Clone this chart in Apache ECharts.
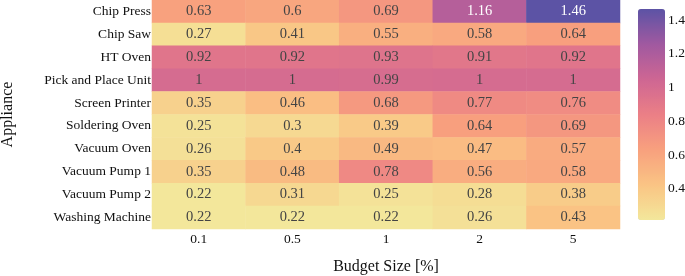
<!DOCTYPE html>
<html>
<head>
<meta charset="utf-8">
<script src="https://cdn.jsdelivr.net/npm/echarts@6/dist/echarts.min.js"></script>
<style>html,body{margin:0;padding:0;background:#fff}#c{width:685px;height:276px}</style>
</head>
<body>
<div id="c"></div>
<script>
const appliances = ["Chip Press","Chip Saw","HT Oven","Pick and Place Unit","Screen Printer","Soldering Oven","Vacuum Oven","Vacuum Pump 1","Vacuum Pump 2","Washing Machine"];
const budgets = ["0.1","0.5","1","2","5"];
const chipPress = [0.63, 0.6, 0.69, 1.16, 1.46];
const chipSaw = [0.27, 0.41, 0.55, 0.58, 0.64];
const htOven = [0.92, 0.92, 0.93, 0.91, 0.92];
const pickPlace = [1, 1, 0.99, 1, 1];
const screenPrinter = [0.35, 0.46, 0.68, 0.77, 0.76];
const solderingOven = [0.25, 0.3, 0.39, 0.64, 0.69];
const vacuumOven = [0.26, 0.4, 0.49, 0.47, 0.57];
const vacuumPump1 = [0.35, 0.48, 0.78, 0.56, 0.58];
const vacuumPump2 = [0.22, 0.31, 0.25, 0.28, 0.38];
const washingMachine = [0.22, 0.22, 0.22, 0.26, 0.43];
const colorbarTicks = [0.4, 0.6, 0.8, 1, 1.2, 1.4];

const rows = [chipPress, chipSaw, htOven, pickPlace, screenPrinter, solderingOven, vacuumOven, vacuumPump1, vacuumPump2, washingMachine];
const sunset = ['rgb(243,231,155)','rgb(250,196,132)','rgb(248,160,126)','rgb(235,127,134)','rgb(206,102,147)','rgb(160,89,160)','rgb(92,83,165)'];
let vmin = Infinity, vmax = -Infinity;
const data = [];
rows.forEach((r, yi) => r.forEach((v, xi) => {
  vmin = Math.min(vmin, v); vmax = Math.max(vmax, v);
  data.push({value: [xi, yi, v], label: {color: v > 1.1 ? '#ffffff' : '#444444'}});
}));
const font = 'Liberation Serif';
const chart = echarts.init(document.getElementById('c'), null, {renderer: 'canvas'});
chart.setOption({
  animation: false,
  textStyle: {fontFamily: font},
  grid: [
    {left: 152, top: 0, width: 468, height: 229, outerBoundsMode: 'none', containLabel: false},
    {left: 638, top: 9, width: 27, height: 211, show: false, outerBoundsMode: 'none', containLabel: false}
  ],
  xAxis: [
    {type: 'category', data: budgets, gridIndex: 0,
     axisLine: {show: false}, axisTick: {show: false}, splitLine: {show: false},
     axisLabel: {fontFamily: font, fontSize: 13.5, color: '#111', margin: 3},
     name: 'Budget Size [%]', nameLocation: 'middle', nameGap: 30,
     nameTextStyle: {fontFamily: font, fontSize: 16, color: '#111'}},
    {type: 'value', gridIndex: 1, show: false}
  ],
  yAxis: [
    {type: 'category', data: appliances, inverse: true, gridIndex: 0,
     axisLine: {show: false}, axisTick: {show: false}, splitLine: {show: false},
     axisLabel: {fontFamily: font, fontSize: 13.5, color: '#111', margin: 1},
     name: 'Appliance', nameLocation: 'middle', nameGap: 136, nameRotate: 90,
     nameTextStyle: {fontFamily: font, fontSize: 16, color: '#111'}},
    {type: 'value', gridIndex: 1, position: 'right', min: vmin - 0.004, max: vmax + 0.005,
     axisLine: {show: false}, axisTick: {show: false}, splitLine: {show: false},
     axisLabel: {fontFamily: font, fontSize: 13.5, color: '#111', margin: 3, customValues: colorbarTicks,
       formatter: v => String(+v.toFixed(2))}}
  ],
  visualMap: {
    type: 'continuous', min: vmin, max: vmax, calculable: false, show: true,
    left: 638, top: 9, itemWidth: 27, itemHeight: 211, padding: 0,
    text: ['', ''], showLabel: false, seriesIndex: 0,
    inRange: {color: sunset}
  },
  series: [{
    type: 'heatmap', xAxisIndex: 0, yAxisIndex: 0, data: data,
    label: {show: true, fontFamily: font, fontSize: 14.5,
      formatter: p => String(p.value[2])},
    itemStyle: {borderWidth: 0}
  }]
});
</script>
</body>
</html>
